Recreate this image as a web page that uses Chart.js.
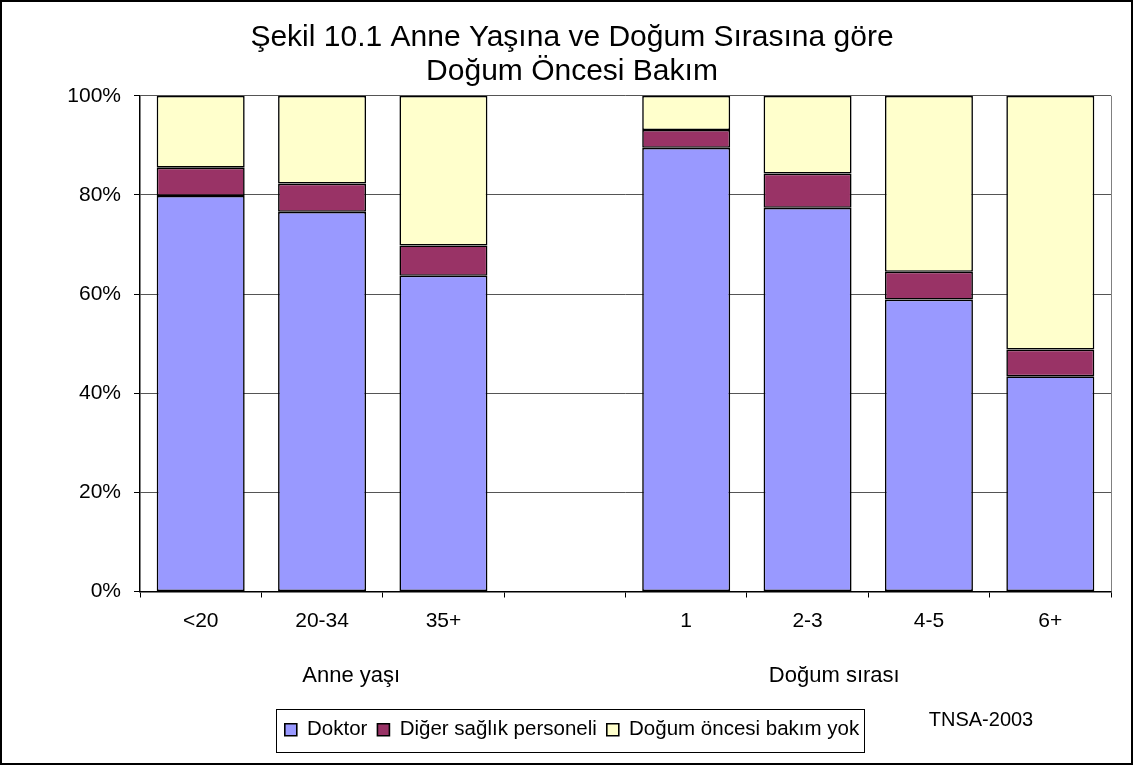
<!DOCTYPE html>
<html>
<head>
<meta charset="utf-8">
<script src="https://cdn.jsdelivr.net/npm/chart.js@4/dist/chart.umd.min.js"></script>
<style>
  html, body { margin: 0; padding: 0; background: #fff; }
  #wrap { width: 1133px; height: 765px; position: relative; }
</style>
</head>
<body>
<div id="wrap"><canvas id="c"></canvas></div>
<script>
"use strict";

// ---- data ----
const categories = ["<20", "20-34", "35+", "", "1", "2-3", "4-5", "6+"];
const doktor = [79.8, 76.6, 63.7, null, 89.5, 77.4, 58.9, 43.4];
const diger  = [5.7, 5.7, 6.1, null, 3.6, 6.9, 5.6, 5.4];
const yok    = [14.5, 17.7, 30.2, null, 6.9, 15.7, 35.5, 51.2];
const yTicks = [0, 20, 40, 60, 80, 100];
const groups = [
  { text: "Anne yaşı", at: 1.24 },
  { text: "Doğum sırası", at: 5.22 },
];
const source = "TNSA-2003";

const FONT = "'Liberation Sans', Arial, sans-serif";

// ---- frame, group labels, legend box, source note ----
const extras = {
  id: "extras",
  beforeDraw(chart) {
    const ctx = chart.ctx;
    ctx.save();
    ctx.fillStyle = "#fff";
    ctx.fillRect(0, 0, chart.width, chart.height);
    ctx.restore();
  },
  beforeDatasetsDraw(chart) {
    const { ctx, chartArea: a } = chart;
    ctx.save();
    ctx.strokeStyle = "#808080";
    ctx.lineWidth = 1;
    ctx.beginPath();
    ctx.moveTo(a.right + 0.5, a.top);
    ctx.lineTo(a.right + 0.5, a.bottom);
    ctx.stroke();
    ctx.restore();
  },
  afterDraw(chart) {
    const ctx = chart.ctx;
    const x = chart.scales.x;
    ctx.save();
    ctx.fillStyle = "#000";
    ctx.textAlign = "center";
    ctx.textBaseline = "middle";
    ctx.font = "22px " + FONT;
    groups.forEach((g) => ctx.fillText(g.text, x.getPixelForValue(g.at), 676));
    ctx.font = "20px " + FONT;
    ctx.fillText(source, 981, 720);

    // box around the legend
    const hb = chart.legend.legendHitBoxes;
    if (hb && hb.length) {
      const l = Math.min(...hb.map((h) => h.left)) - 9;
      const r = Math.max(...hb.map((h) => h.left + h.width)) + 5;
      const t = hb[0].top - 11;
      const b = hb[0].top + hb[0].height + 11;
      ctx.strokeStyle = "#000";
      ctx.lineWidth = 1;
      ctx.strokeRect(Math.round(l) + 0.5, Math.round(t) + 0.5, Math.round(r - l), Math.round(b - t));
    }

    // outer frame
    ctx.lineWidth = 2;
    ctx.strokeStyle = "#000";
    ctx.strokeRect(1, 1, chart.width - 2, chart.height - 2);
    ctx.restore();
  },
};

const bar = (label, data, color) => ({
  label, data,
  backgroundColor: color,
  borderColor: "#000",
  borderWidth: 1.6,
  borderSkipped: false,
  categoryPercentage: 1,
  barPercentage: 0.725,
});

new Chart(document.getElementById("c"), {
  type: "bar",
  data: {
    labels: categories,
    datasets: [
      bar("Doktor", doktor, "#9999FF"),
      bar("Diğer sağlık personeli", diger, "#993366"),
      bar("Doğum öncesi bakım yok", yok, "#FFFFCC"),
    ],
  },
  options: {
    responsive: true,
    maintainAspectRatio: false,
    animation: false,
    layout: { padding: { left: 11, right: 0, top: 0, bottom: 15 } },
    plugins: {
      title: {
        display: true,
        text: ["Şekil 10.1 Anne Yaşına ve Doğum Sırasına göre", "Doğum Öncesi Bakım"],
        color: "#000",
        font: { family: FONT, size: 30, weight: "normal", lineHeight: 1.13 },
        padding: { top: 21, bottom: 7 },
      },
      legend: {
        position: "bottom",
        labels: {
          color: "#000",
          font: { family: FONT, size: 20.5 },
          boxWidth: 12,
          boxHeight: 12,
          padding: 10,
        },
      },
      tooltip: { enabled: false },
    },
    scales: {
      x: {
        stacked: true,
        grid: { offset: true, drawOnChartArea: false, color: "#000", tickLength: 6 },
        border: { color: "#000", width: 1.5 },
        ticks: { color: "#000", font: { family: FONT, size: 21 }, padding: 11, maxRotation: 0, autoSkip: false },
        afterFit: (s) => { s.height = 118; },
      },
      y: {
        stacked: true,
        min: 0, max: 100,
        afterBuildTicks: (s) => { s.ticks = yTicks.map((v) => ({ value: v })); },
        grid: { color: "#555", tickColor: "#000", tickLength: 6, lineWidth: 1 },
        border: { color: "#000", width: 1.5 },
        ticks: { color: "#000", font: { family: FONT, size: 21 }, padding: 13, callback: (v) => v + "%" },
        afterFit: (s) => { s.width = 129; },
      },
      yR: {
        position: "right",
        display: true,
        grid: { drawOnChartArea: false, drawTicks: false },
        border: { display: false },
        ticks: { display: false },
        afterFit: (s) => { s.width = 22; },
      },
    },
  },
  plugins: [extras],
});
</script>
</body>
</html>
